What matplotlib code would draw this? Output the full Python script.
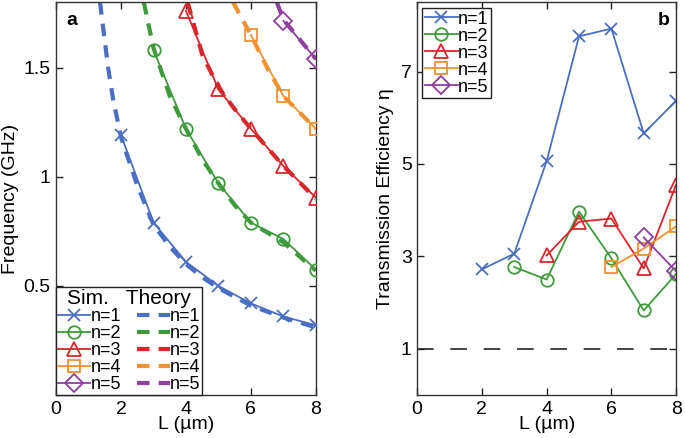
import matplotlib
matplotlib.use('Agg')
import matplotlib.pyplot as plt

plt.rcParams['font.family'] = ['Liberation Sans', 'DejaVu Sans']
plt.rcParams['font.size'] = 14

colors = ['#4a6fc2', '#3f9a3b', '#d8262b', '#f0922e', '#8e3fa0']
markers = ['x', 'o', '^', 's', 'D']
msizes = [9, 9, 10, 8.5, 9]
labels = ['n=1', 'n=2', 'n=3', 'n=4', 'n=5']

# panel a: simulated frequencies
sim_L = [[2, 3, 4, 5, 6, 7, 8], [3, 4, 5, 6, 7, 8], [4, 5, 6, 7, 8], [6, 7, 8], [7, 8]]
sim_f = [[1.19, 0.79, 0.61, 0.50, 0.42, 0.36, 0.32],
         [1.58, 1.22, 0.97, 0.79, 0.715, 0.575],
         [1.76, 1.40, 1.22, 1.05, 0.905],
         [1.65, 1.37, 1.22],
         [1.715, 1.54]]

# panel a: theory curves
th_L = [[1.35, 1.6, 1.75, 2, 2.5, 3, 3.5, 4, 4.5, 5, 6, 7, 8],
        [2.7, 3, 3.5, 4, 4.5, 5, 5.5, 6, 7, 8],
        [4.05, 4.5, 5, 5.5, 6, 7, 8],
        [5.45, 6, 6.5, 7, 8],
        [6.8, 7, 8]]
th_f = [[1.8, 1.5, 1.36, 1.18, 0.96, 0.78, 0.68, 0.6, 0.54, 0.49, 0.41, 0.355, 0.31],
        [1.8, 1.59, 1.37, 1.22, 1.08, 0.97, 0.87, 0.79, 0.7, 0.57],
        [1.8, 1.56, 1.41, 1.31, 1.22, 1.05, 0.9],
        [1.8, 1.65, 1.5, 1.37, 1.22],
        [1.8, 1.72, 1.54]]

# panel b: transmission efficiency
eff_L = [[2, 3, 4, 5, 6, 7, 8], [3, 4, 5, 6, 7, 8], [4, 5, 6, 7, 8], [6, 7, 8], [7, 8]]
eff = [[2.72, 3.06, 5.06, 7.76, 7.93, 5.66, 6.37],
       [2.77, 2.50, 3.97, 2.96, 1.83, 2.62],
       [3.02, 3.75, 3.82, 2.74, 4.55],
       [2.77, 3.17, 3.65],
       [3.41, 2.68]]

fig = plt.figure(figsize=(6.85, 4.38), dpi=100)
ax1 = fig.add_axes([0.082, 0.098, 0.379, 0.897])
ax2 = fig.add_axes([0.609, 0.098, 0.378, 0.897])

sim_handles = []
th_handles = []
for i in range(5):
    th, = ax1.plot(th_L[i], th_f[i], color=colors[i], lw=3, dashes=[3, 2.2],
                   label=labels[i], zorder=2)
    s, = ax1.plot(sim_L[i], sim_f[i], color=colors[i], marker=markers[i],
                  ms=msizes[i], mfc='none', mew=1.3, lw=1.3, label=labels[i], zorder=3)
    sim_handles.append(s)
    th_handles.append(th)

ax1.set_xlim(0, 8)
ax1.set_ylim(0, 1.8)
ax1.set_xticks([0, 2, 4, 6, 8])
ax1.set_yticks([0.5, 1, 1.5])
ax1.set_yticklabels(['0.5', '1', '1.5'])
ax1.set_xlabel('L (\u00b5m)', labelpad=-1)
ax1.set_ylabel('Frequency (GHz)', labelpad=3)
ax1.text(0.04, 0.975, 'a', transform=ax1.transAxes, fontweight='bold',
         ha='left', va='top')
leg1 = ax1.legend(sim_handles + th_handles, labels + labels, ncol=2,
                  loc='lower left', bbox_to_anchor=(0, 0), borderaxespad=0,
                  title='Sim.   Theory', title_fontsize=15, fontsize=13,
                  handlelength=1.8, handletextpad=0.0, labelspacing=0.0,
                  columnspacing=0.9, borderpad=0.1, fancybox=False,
                  framealpha=1, edgecolor='#222222')
leg1.get_frame().set_linewidth(1.0)
leg1._legend_box.sep = 0

for i in range(5):
    ax2.plot(eff_L[i], eff[i], color=colors[i], marker=markers[i],
             ms=msizes[i], mfc='none', mew=1.3, lw=1.3, label=labels[i])
ax2.plot([0, 8], [1, 1], color='#222222', lw=1.2, linestyle=(0, (10, 10)))
ax2.set_xlim(0, 8)
ax2.set_ylim(0, 8.5)
ax2.set_xticks([0, 2, 4, 6, 8])
ax2.set_yticks([1, 3, 5, 7])
ax2.set_xlabel('L (\u00b5m)', labelpad=-1)
ax2.set_ylabel('Transmission Efficiency \u03b7', labelpad=5)
ax2.text(0.975, 0.975, 'b', transform=ax2.transAxes, fontweight='bold',
         ha='right', va='top')
leg2 = ax2.legend(loc='upper left', bbox_to_anchor=(0.02, 0.985), borderaxespad=0,
                  fontsize=13, handlelength=1.8, handletextpad=0.0, labelspacing=0.0,
                  borderpad=0.15, fancybox=False, framealpha=1, edgecolor='#222222')
leg2.get_frame().set_linewidth(1.0)

for ax in (ax1, ax2):
    ax.tick_params(direction='in', top=True, right=True, length=5, width=1,
                   labelsize=14, colors='#222222', pad=4)
    ax.tick_params(labelcolor='black')
    for sp in ax.spines.values():
        sp.set_color('#333333')
        sp.set_linewidth(1.0)

fig.savefig('out.png', dpi=100)
